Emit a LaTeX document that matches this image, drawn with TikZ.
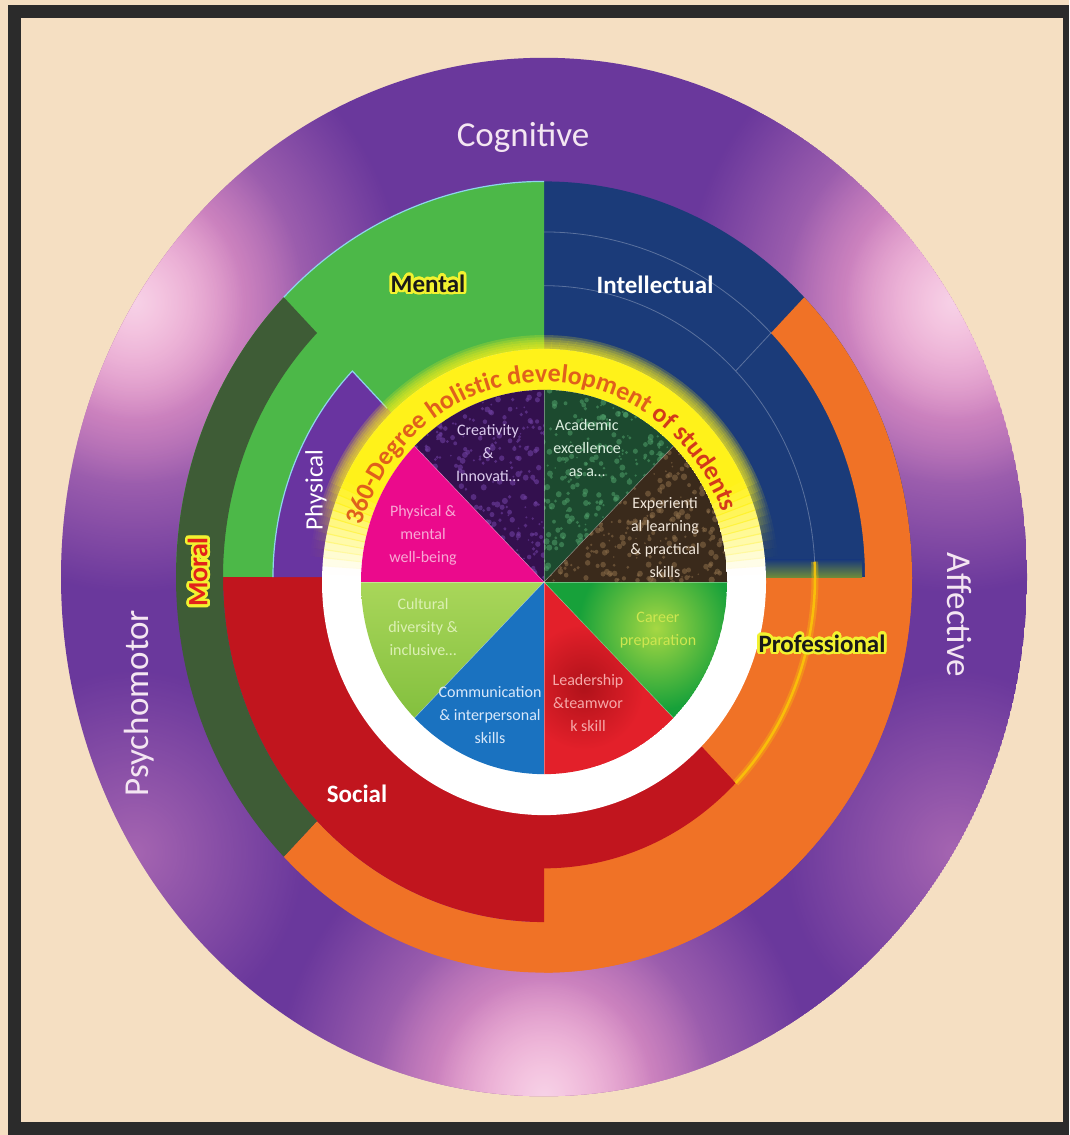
\documentclass[tikz,border=0pt]{standalone}
\usepackage{fontspec}
\setmainfont{Carlito}
\usepackage[copies]{contour}
\contourlength{2.6pt}
\contournumber{32}
\usetikzlibrary{fadings,decorations.text}
\tikzfading[name=glowfade, inner color=transparent!0, outer color=transparent!100]

\definecolor{bgbeige}{HTML}{F5DFC2}
\definecolor{framecol}{HTML}{2B2B2B}
\definecolor{ringpurple}{HTML}{6A389C}
\definecolor{beampink}{HTML}{EE9CCB}
\definecolor{mentalgreen}{HTML}{4CB848}
\definecolor{intnavy}{HTML}{1B3B79}
\definecolor{navyglow}{HTML}{6E8A3A}
\definecolor{proforange}{HTML}{F07226}
\definecolor{socialred}{HTML}{C1151E}
\definecolor{moralgreen}{HTML}{3E5C36}
\definecolor{physpurple}{HTML}{6934A0}
\definecolor{edgecyan}{HTML}{8ED4EE}
\definecolor{bandyellow}{HTML}{FFF21A}
\definecolor{titleor}{HTML}{E0601C}
\definecolor{titlered}{HTML}{D33A1A}
\definecolor{labellav}{HTML}{F4E6F2}
\definecolor{glowyellow}{HTML}{F2F230}
\definecolor{moraltext}{HTML}{E2231A}
\definecolor{crbase}{HTML}{33104E}
\definecolor{crspeck}{HTML}{6E3FA0}
\definecolor{acbase}{HTML}{1C4A2F}
\definecolor{acspeck}{HTML}{4FA06A}
\definecolor{exbase}{HTML}{3A2A1B}
\definecolor{exspeck}{HTML}{8C6E4A}
\definecolor{pwpink}{HTML}{EB0A8C}
\definecolor{cugreen}{HTML}{80BE3C}
\definecolor{cugreenlt}{HTML}{A9D65A}
\definecolor{cmblue}{HTML}{1A72C0}
\definecolor{ldred}{HTML}{E3202A}
\definecolor{ldreddk}{HTML}{B0121A}
\definecolor{cagreen}{HTML}{17A13A}
\definecolor{caglow}{HTML}{A6D843}
\definecolor{crtext}{HTML}{DCCCEE}
\definecolor{actext}{HTML}{DCEFE0}
\definecolor{extext}{HTML}{F0E6DA}
\definecolor{pwtext}{HTML}{F8A8D4}
\definecolor{cutext}{HTML}{DCF0B4}
\definecolor{cmtext}{HTML}{D8E8FA}
\definecolor{ldtext}{HTML}{F6A8A8}
\definecolor{catext}{HTML}{CDE650}

\newcommand{\annseg}[4]{(#3:#2) arc[start angle=#3,end angle=#4,radius=#2] -- (#4:#1) arc[start angle=#4,end angle=#3,radius=#1] -- cycle}
\newcommand{\piesect}[3]{(0,0) -- (#2:#1) arc[start angle=#2,end angle=#3,radius=#1] -- cycle}
\newcommand{\titlefmt}{\fontsize{26}{26}\selectfont\bfseries}

\tikzset{
  bigcat/.style={text=labellav, font=\fontsize{35}{40}\selectfont},
  ringlab/.style={font=\bfseries\fontsize{25}{28}\selectfont},
  pietext/.style={align=center, font=\fontsize{16}{23}\selectfont},
  faintline/.style={white, opacity=0.28, line width=0.8pt},
}

\begin{document}
\begin{tikzpicture}[x=1pt,y=1pt]
\pgfmathsetseed{4242}
\useasboundingbox (0,0) rectangle (1069,-1135);
\fill[bgbeige] (0,0) rectangle (1069,-1135);
\fill[framecol] (8,-5) rectangle (1069,-1135);
\fill[bgbeige] (21,-18) rectangle (1063,-1122);

% ---------- outer rings ----------
\begin{scope}[shift={(544,-577)}, yscale=1.075]
  \begin{scope}
    \clip (0,0) circle[radius=483];
    \fill[ringpurple] (0,0) circle[radius=483];
    \foreach \a in {148,32,270}{
      \fill[beampink, path fading=glowfade] (\a:483) circle[radius=270];
      \fill[beampink, path fading=glowfade] (\a:483) circle[radius=170];
      \fill[white, fill opacity=0.55, path fading=glowfade] (\a:483) circle[radius=110];
    }
    \foreach \a in {212,328}{
      \fill[beampink, fill opacity=0.45, path fading=glowfade] (\a:483) circle[radius=170];
    }
  \end{scope}
  \fill[intnavy] \piesect{368}{0}{90};
  \fill[mentalgreen] \piesect{368}{90}{180};
  \fill[proforange] \piesect{368}{-90}{0};
  \fill[proforange] \annseg{321}{368}{-135}{45};
  \fill[socialred] \piesect{321}{180}{270};
  \fill[socialred] \piesect{271}{270}{315};
  \fill[moralgreen] \annseg{321}{368}{135}{225};
  \fill[physpurple] \piesect{271}{135}{180};
  \shade[top color=intnavy, bottom color=navyglow] (222,0) rectangle (318,16);
  \draw[faintline] (90:271) arc[start angle=90,end angle=0,radius=271];
  \draw[faintline] (90:321) arc[start angle=90,end angle=45,radius=321];
  \draw[faintline] (45:271) -- (45:321);
  \draw[yellow!70!orange, line width=7pt, opacity=0.3] (3:271) arc[start angle=3,end angle=-45,radius=271];
  \draw[yellow!60!orange, line width=2.5pt, opacity=0.85] (3:271) arc[start angle=3,end angle=-45,radius=271];
  \draw[edgecyan, line width=1.2pt] (90:368) arc[start angle=90,end angle=135,radius=368];
  \draw[edgecyan, line width=1.2pt] (180:271) arc[start angle=180,end angle=135,radius=271] -- (135:222);
\end{scope}

% ---------- inner disc ----------
\begin{scope}[shift={(544,-582)}, yscale=1.05]
  \fill[white] (0,0) circle[radius=222];
  \foreach \a in {0,2,...,178}{
    \pgfmathsetmacro{\op}{min(1,max(0,(sin(\a+1)-0.05)*2.6))}
    \pgfmathsetmacro{\opk}{0.2*\op*\op}
    \pgfmathsetmacro{\aend}{\a+2}
    \fill[bandyellow, fill opacity=\op] \annseg{183}{222}{\a-0.15}{\a+2.15};
    \foreach \k in {1,...,6}{
      \pgfmathsetmacro{\rout}{222+2.2*\k}
      \fill[bandyellow, fill opacity=\opk] \annseg{222}{\rout}{\a}{\aend};
    }
  }
  % textured sectors
  \begin{scope}
    \clip \piesect{183}{90}{135};
    \fill[crbase] (0,0) circle[radius=183];
    \foreach \i in {1,...,220}{
      \pgfmathsetmacro{\ta}{85+55*rnd}
      \pgfmathsetmacro{\tr}{183*sqrt(rnd)}
      \pgfmathsetmacro{\ts}{0.8+2.2*rnd}
      \fill[crspeck, fill opacity=0.6] (\ta:\tr) circle[radius=\ts];
    }
  \end{scope}
  \begin{scope}
    \clip \piesect{183}{45}{90};
    \fill[acbase] (0,0) circle[radius=183];
    \foreach \i in {1,...,220}{
      \pgfmathsetmacro{\ta}{40+55*rnd}
      \pgfmathsetmacro{\tr}{183*sqrt(rnd)}
      \pgfmathsetmacro{\ts}{0.8+2.4*rnd}
      \fill[acspeck, fill opacity=0.55] (\ta:\tr) circle[radius=\ts];
    }
  \end{scope}
  \begin{scope}
    \clip \piesect{183}{0}{45};
    \fill[exbase] (0,0) circle[radius=183];
    \foreach \i in {1,...,220}{
      \pgfmathsetmacro{\ta}{-5+55*rnd}
      \pgfmathsetmacro{\tr}{183*sqrt(rnd)}
      \pgfmathsetmacro{\ts}{0.8+2.4*rnd}
      \fill[exspeck, fill opacity=0.55] (\ta:\tr) circle[radius=\ts];
    }
  \end{scope}
  \fill[pwpink] \piesect{183}{135}{180};
  \begin{scope}
    \clip \piesect{183}{180}{225};
    \shade[top color=cugreenlt, bottom color=cugreen] (-183,0) rectangle (0,-140);
  \end{scope}
  \fill[cmblue] \piesect{183}{225}{270};
  \begin{scope}
    \clip \piesect{183}{270}{315};
    \fill[ldred] (0,0) circle[radius=183];
    \shade[inner color=ldreddk, outer color=ldred] (40,-100) circle[radius=60];
  \end{scope}
  \begin{scope}
    \clip \piesect{183}{315}{360};
    \fill[cagreen] (0,0) circle[radius=183];
    \shade[inner color=caglow, outer color=cagreen] (112,-44) circle[radius=78];
  \end{scope}
  \foreach \a in {0,45,...,315}
    \draw[white, opacity=0.35, line width=0.6pt] (0,0) -- (\a:183);
\end{scope}

% ---------- curved title ----------
\begin{scope}[shift={(544,-582)}]
  \path[decorate, decoration={text along path, text align=center,
    text={|\titlefmt\color{titleor}|360-Degree holistic development |\titlefmt\color{titlered}|of students}}]
    (183:190 and 200) arc[start angle=183, end angle=1, x radius=190, y radius=200];
\end{scope}

% ---------- labels ----------
\node[bigcat] (cog) at (523,-137) {Cognitive};
\node[bigcat, rotate=90] (psy) at (139,-703) {Psychomotor};
\node[bigcat, rotate=-90] (aff) at (959,-615) {Affective};
\node[ringlab, text=black!90] (men) at (428,-285) {\contour{glowyellow}{Mental}};
\node[ringlab, text=white] (intel) at (655,-285) {Intellectual};
\node[text=moraltext, font=\bfseries\fontsize{28}{30}\selectfont, rotate=90] (mor) at (199,-572) {\contour{glowyellow}{Moral}};
\node[text=white, font=\fontsize{25}{28}\selectfont, rotate=90] (phys) at (316,-490) {Physical};
\node[ringlab, text=black!90] (prof) at (822,-645) {\contour{glowyellow}{Professional}};
\node[ringlab, text=white] (soc) at (357,-794) {Social};

% ---------- pie texts ----------
\node[pietext, text=crtext] (cre) at (488,-453) {Creativity\\\&\\Innovati…};
\node[pietext, text=actext] (aca) at (587,-448) {Academic\\excellence\\as a…};
\node[pietext, text=extext] (exp) at (665,-538) {Experienti\\al learning\\\& practical\\skills};
\node[pietext, text=pwtext] (pw) at (423,-535) {Physical \&\\mental\\well-being};
\node[pietext, text=cutext] (cul) at (423,-627) {Cultural\\diversity \&\\inclusive…};
\node[pietext, text=cmtext] (com) at (490,-715) {Communication\\\& interpersonal\\skills};
\node[pietext, text=ldtext] (lea) at (588,-703) {Leadership\\\&teamwor\\k skill};
\node[pietext, text=catext] (car) at (658,-630) {Career\\preparation};
\end{tikzpicture}
\end{document}
